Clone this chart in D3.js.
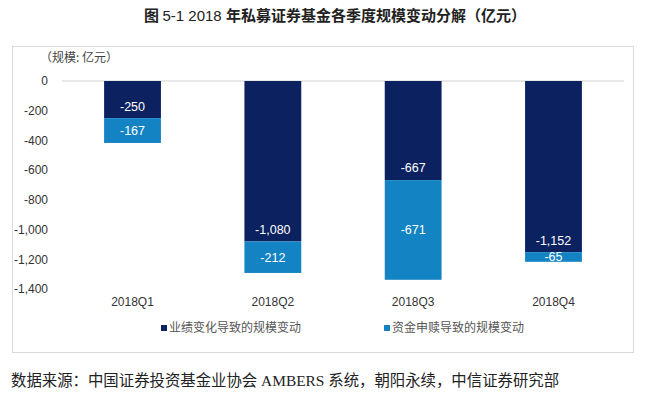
<!DOCTYPE html>
<html><head><meta charset="utf-8">
<script src="https://cdn.jsdelivr.net/npm/d3@7"></script>
<style>
body{margin:0;background:#fff;}
svg{display:block;font-family:"Liberation Sans",Arial,"Noto Sans CJK SC",sans-serif;}
</style></head>
<body><svg id="chart" width="649" height="393"></svg>
<script>
const categories = ["2018Q1","2018Q2","2018Q3","2018Q4"];
const perfChange = [-250,-1080,-667,-1152];
const flowChange = [-167,-212,-671,-65];
const seriesNames = ["业绩变化导致的规模变动","资金申赎导致的规模变动"];
const yTicks = [0,-200,-400,-600,-800,-1000,-1200,-1400];
const colors = ["#0b2160","#1483c3"];

const svg = d3.select("#chart");
const fmt = v => d3.format(",")(v).replace("\u2212","-");

// title
const title = svg.append("text").attr("x",335).attr("y",21).attr("text-anchor","middle")
  .attr("font-size",15).attr("fill","#222").attr("font-family","'Noto Sans CJK SC',sans-serif");
title.append("tspan").attr("font-weight","bold").text("图 ");
title.append("tspan").attr("font-weight","normal").attr("font-family","'Liberation Sans',Arial").text("5-1 2018 ");
title.append("tspan").attr("font-weight","bold").text("年私募证券基金各季度规模变动分解（亿元）");

// frame
svg.append("rect").attr("x",12.5).attr("y",46.5).attr("width",621).attr("height",306)
  .attr("fill","none").attr("stroke","#d9d9d9").attr("stroke-width",1);

svg.append("text").attr("x",40).attr("y",62).attr("font-size",12).attr("fill","#444")
  .attr("font-family","'Noto Sans CJK SC',sans-serif").text("（规模: 亿元）");

const x = d3.scaleBand().domain(categories).range([62,624]).paddingInner(0.595).paddingOuter(0.3);
const y = d3.scaleLinear().domain([-1400,0]).range([289,81]);

// y axis
const yAxis = svg.append("g").attr("transform","translate(52,0)")
  .call(d3.axisLeft(y).tickValues(yTicks).tickFormat(fmt).tickSize(0).tickPadding(4));
yAxis.select(".domain").remove();
yAxis.selectAll("text").attr("font-size",12).attr("fill","#333");

// zero line
svg.append("line").attr("x1",62).attr("x2",624).attr("y1",y(0)).attr("y2",y(0))
  .attr("stroke","#d0d0d0");

// stacked bars
const data = categories.map((c,i)=>({c, a:perfChange[i], b:flowChange[i]}));
const g = svg.append("g");
data.forEach(d=>{
  const segs = [
    {y0:0,y1:d.a,v:d.a,col:colors[0],pos:"end"},
    {y0:d.a,y1:d.a+d.b,v:d.b,col:colors[1],pos:"center"}
  ];
  segs.forEach(s=>{
    g.append("rect").attr("x",x(d.c)).attr("width",x.bandwidth())
      .attr("y",y(s.y0)).attr("height",y(s.y1)-y(s.y0)).attr("fill",s.col);
    const ty = s.pos==="end" ? y(s.y1)-12 : (y(s.y0)+y(s.y1))/2;
    g.append("text").attr("x",x(d.c)+x.bandwidth()/2).attr("y",ty)
      .attr("dy","0.35em").attr("text-anchor","middle").attr("font-size",12.5)
      .attr("fill","#fff").text(fmt(s.v));
  });
});

// x labels
svg.append("g").selectAll("text").data(categories).join("text")
  .attr("x",d=>x(d)+x.bandwidth()/2).attr("y",306).attr("text-anchor","middle")
  .attr("font-size",12).attr("fill","#333").text(d=>d);

// legend
const legX = [161,384];
seriesNames.forEach((n,i)=>{
  svg.append("rect").attr("x",legX[i]).attr("y",325).attr("width",6).attr("height",6).attr("fill",colors[i]);
  svg.append("text").attr("x",legX[i]+8).attr("y",332).attr("font-size",12).attr("fill","#555")
    .attr("font-family","'Noto Sans CJK SC',sans-serif").text(n);
});

// source
svg.append("text").attr("x",11).attr("y",386).attr("font-size",15.4).attr("fill","#222")
  .attr("font-family","'Liberation Serif','Noto Sans CJK SC',serif")
  .text("数据来源：中国证券投资基金业协会 AMBERS 系统，朝阳永续，中信证券研究部");
</script></body></html>
